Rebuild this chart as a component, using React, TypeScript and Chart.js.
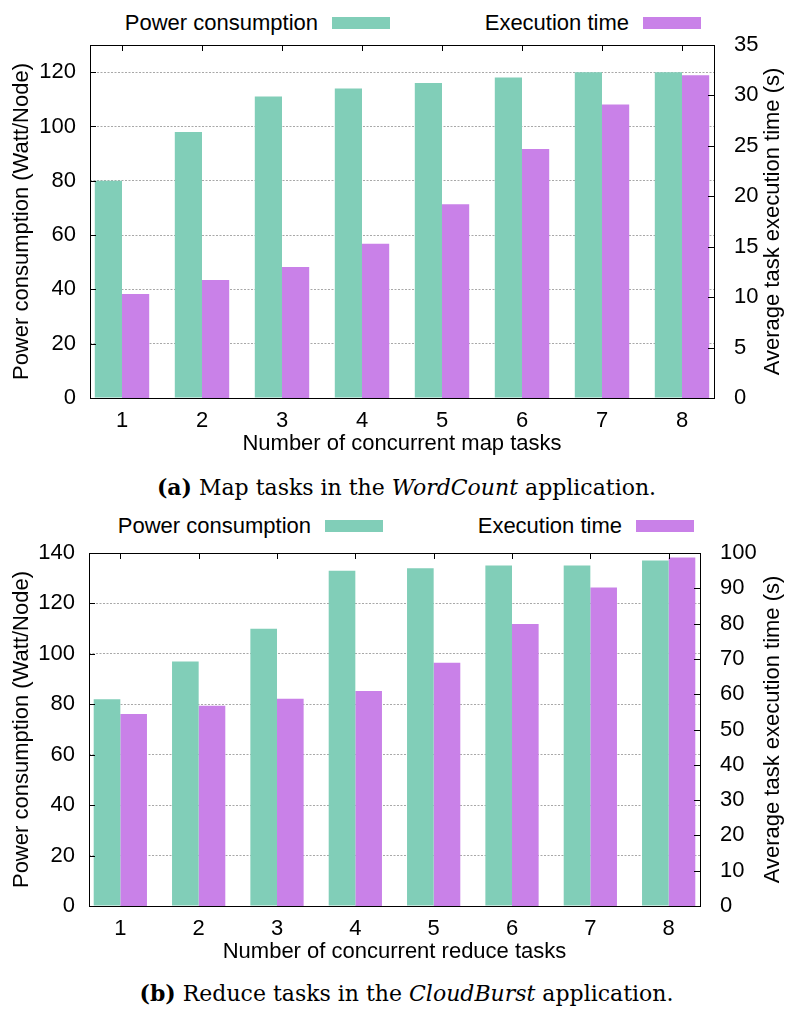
import React, { useEffect, useRef } from 'react';
import { Chart, registerables } from 'chart.js';

Chart.register(...registerables);

// ---------- data ----------
const taskCounts = [1, 2, 3, 4, 5, 6, 7, 8];
const mapPower = [80, 98, 111, 114, 116, 118, 120, 120];
const mapTime = [10.3, 11.7, 13.0, 15.3, 19.2, 24.7, 29.1, 32.0];
const reducePower = [82, 97, 110, 133, 134, 135, 135, 137];
const reduceTime = [54.4, 56.7, 58.7, 60.9, 68.9, 79.9, 90.2, 98.7];

const seriesNames = ['Power consumption', 'Execution time'];
const leftTitle = 'Power consumption (Watt/Node)';
const rightTitle = 'Average task execution time (s)';
const xTitleA = 'Number of concurrent map tasks';
const xTitleB = 'Number of concurrent reduce tasks';

const GREEN = '#81CEB8';
const PURPLE = '#C981E8';
const FONT = '"Liberation Sans", Arial, sans-serif';
const FS = 22;

const framePlugin = {
  id: 'frame',
  afterDraw(chart: any, _args: any, opts: any) {
    const { ctx, chartArea: a, scales } = chart;
    ctx.save();
    ctx.strokeStyle = '#000';
    ctx.lineWidth = 1;
    const L = 6;
    ctx.beginPath();
    const y = scales.y;
    y.ticks.forEach((t: any) => {
      if (t.value <= y.min || t.value >= y.max) return;
      const p = Math.round(y.getPixelForValue(t.value)) + 0.5;
      ctx.moveTo(a.left, p);
      ctx.lineTo(a.left + L, p);
    });
    const y1 = scales.y1;
    y1.ticks.forEach((t: any) => {
      if (t.value <= y1.min || t.value >= y1.max) return;
      const p = Math.round(y1.getPixelForValue(t.value)) + 0.5;
      ctx.moveTo(a.right, p);
      ctx.lineTo(a.right - L, p);
    });
    const x = scales.x;
    x.ticks.forEach((t: any) => {
      const p = Math.round(x.getPixelForValue(t.value)) + 0.5;
      ctx.moveTo(p, a.top);
      ctx.lineTo(p, a.top + L);
    });
    ctx.stroke();
    ctx.strokeRect(Math.round(a.left) + 0.5, Math.round(a.top) + 0.5, Math.round(a.right - a.left), Math.round(a.bottom - a.top));
    // right axis title, reading bottom to top
    ctx.fillStyle = '#000';
    ctx.font = `${FS}px ${FONT}`;
    ctx.textAlign = 'center';
    ctx.textBaseline = 'middle';
    ctx.translate(opts.titleX, (a.top + a.bottom) / 2);
    ctx.rotate(-Math.PI / 2);
    ctx.fillText(opts.text, 0, 0);
    ctx.restore();
  },
};

type PanelProps = {
  top: number;
  height: number;
  plotTop: number;
  plotBottom: number;
  plotLeft: number;
  plotRight: number;
  power: number[];
  time: number[];
  powerMax: number;
  powerStep: number;
  timeMax: number;
  timeStep: number;
  xTitle: string;
  xTitlePad: number;
};

function ChartPanel(p: PanelProps) {
  const ref = useRef<HTMLCanvasElement>(null);
  useEffect(() => {
    const canvas = ref.current!;
    const W = 787;
    const chart = new Chart(canvas, {
      type: 'bar',
      data: {
        datasets: [
          {
            label: seriesNames[0],
            data: taskCounts.map((t, i) => ({ x: t, y: p.power[i] })),
            backgroundColor: GREEN,
            borderWidth: 0,
            yAxisID: 'y',
          },
          {
            label: seriesNames[1],
            data: taskCounts.map((t, i) => ({ x: t, y: p.time[i] })),
            backgroundColor: PURPLE,
            borderWidth: 0,
            yAxisID: 'y1',
          },
        ],
      },
      options: {
        responsive: false,
        animation: false,
        events: [],
        datasets: { bar: { categoryPercentage: 0.68, barPercentage: 1.0 } },
        layout: { padding: { top: p.plotTop - p.top, left: 0, right: 0, bottom: 0 } },
        plugins: {
          legend: { display: false },
          tooltip: { enabled: false },
          frame: { titleX: 773, text: rightTitle },
        } as any,
        scales: {
          x: {
            type: 'linear',
            min: 0.6,
            max: 8.4,
            offset: false,
            grid: { display: false, drawTicks: false },
            border: { display: false },
            afterBuildTicks: (s: any) => {
              s.ticks = taskCounts.map((v) => ({ value: v }));
            },
            afterFit: (s: any) => {
              s.height = p.top + p.height - p.plotBottom;
            },
            ticks: {
              stepSize: 1,
              includeBounds: false,
              padding: 10,
              color: '#000',
              font: { family: FONT, size: FS },
              maxRotation: 0,
              callback: (v: any) => String(v),
            },
            title: {
              display: true,
              text: p.xTitle,
              color: '#000',
              font: { family: FONT, size: FS },
              padding: { top: 0, bottom: p.xTitlePad },
            },
          },
          y: {
            position: 'left',
            min: 0,
            max: p.powerMax,
            grid: {
              drawTicks: false,
              lineWidth: 1,
              color: (c: any) =>
                c.tick && (c.tick.value <= 0 || c.tick.value >= p.powerMax) ? 'rgba(0,0,0,0)' : '#a8a8a8',
            },
            border: { display: false, dash: [2, 1.5] },
            afterFit: (s: any) => {
              s.width = p.plotLeft;
            },
            ticks: {
              stepSize: p.powerStep,
              includeBounds: false,
              padding: 14,
              color: '#000',
              font: { family: FONT, size: FS },
            },
            title: {
              display: true,
              text: leftTitle,
              color: '#000',
              font: { family: FONT, size: FS },
              padding: { top: 9, bottom: 0 },
            },
          },
          y1: {
            position: 'right',
            min: 0,
            max: p.timeMax,
            grid: { display: false, drawTicks: false, drawOnChartArea: false },
            border: { display: false },
            afterFit: (s: any) => {
              s.width = W - p.plotRight;
            },
            ticks: {
              stepSize: p.timeStep,
              includeBounds: false,
              padding: 20,
              color: '#000',
              font: { family: FONT, size: FS },
            },
          },
        },
      } as any,
      plugins: [framePlugin as any],
    });
    return () => chart.destroy();
  }, []);
  return (
    <canvas
      ref={ref}
      width={787}
      height={p.height}
      style={{ position: 'absolute', left: 0, top: p.top, width: 787, height: p.height }}
    />
  );
}

function Legend({ y, shift }: { y: number; shift: number }) {
  const textStyle: React.CSSProperties = {
    position: 'absolute',
    fontFamily: FONT,
    fontSize: FS,
    lineHeight: '26px',
    color: '#000',
    whiteSpace: 'nowrap',
    textAlign: 'right',
    top: y - 13,
  };
  const sw = (left: number, color: string): React.CSSProperties => ({
    position: 'absolute',
    left: left - shift,
    top: y - 6,
    width: 58,
    height: 12,
    background: color,
  });
  return (
    <>
      <div style={{ ...textStyle, right: 787 - (318 - shift) }}>{seriesNames[0]}</div>
      <div style={sw(332, GREEN)} />
      <div style={{ ...textStyle, right: 787 - (629 - shift) }}>{seriesNames[1]}</div>
      <div style={sw(643, PURPLE)} />
    </>
  );
}

function Caption({ y, tag, before, em, after }: { y: number; tag: string; before: string; em: string; after: string }) {
  return (
    <div
      style={{
        position: 'absolute',
        left: 0,
        width: 787,
        top: y - 15,
        height: 30,
        lineHeight: '30px',
        textAlign: 'center',
        fontFamily: '"DejaVu Serif", serif',
        fontSize: 22,
        color: '#000',
        paddingLeft: 26,
        boxSizing: 'border-box',
        whiteSpace: 'nowrap',
      }}
    >
      <b>{tag}</b> {before}
      <i>{em}</i>
      {after}
    </div>
  );
}

export default function App() {
  return (
    <div style={{ position: 'absolute', left: 0, top: 0, width: 787, height: 1010, background: '#fff', overflow: 'hidden' }}>
      <Legend y={23} shift={0} />
      <ChartPanel
        top={0}
        height={470}
        plotTop={45}
        plotBottom={398}
        plotLeft={90}
        plotRight={714}
        power={mapPower}
        time={mapTime}
        powerMax={130}
        powerStep={20}
        timeMax={35}
        timeStep={5}
        xTitle={xTitleA}
        xTitlePad={13}
      />
      <Caption y={487} tag="(a)" before="Map tasks in the " em="WordCount" after=" application." />
      <Legend y={526} shift={7} />
      <ChartPanel
        top={505}
        height={470}
        plotTop={553}
        plotBottom={906}
        plotLeft={89}
        plotRight={700}
        power={reducePower}
        time={reduceTime}
        powerMax={140}
        powerStep={20}
        timeMax={100}
        timeStep={10}
        xTitle={xTitleB}
        xTitlePad={10}
      />
      <Caption y={993} tag="(b)" before="Reduce tasks in the " em="CloudBurst" after=" application." />
    </div>
  );
}
